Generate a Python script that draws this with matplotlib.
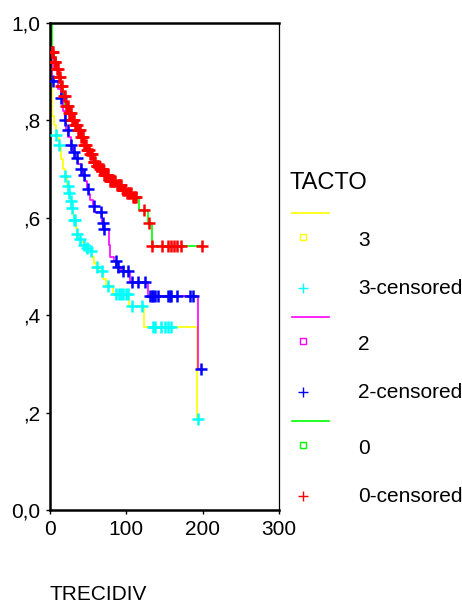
import matplotlib
matplotlib.use("Agg")
import matplotlib.pyplot as plt
import numpy as np

plt.rcParams['font.family'] = ['Liberation Sans', 'DejaVu Sans']

# survival steps (time, cumulative survival)
t3 = [0, 1, 2, 3, 5, 8, 12, 15, 17, 19, 22, 24, 26, 28, 30, 32, 34, 36, 38, 41,
      44, 47, 51, 55, 58, 60, 64, 70, 74, 82, 104, 123, 192]
s3 = [1.0, 0.95, 0.88, 0.81, 0.79, 0.77, 0.75, 0.72, 0.70, 0.685, 0.665, 0.65,
      0.635, 0.62, 0.605, 0.595, 0.58, 0.567, 0.557, 0.55, 0.545, 0.538, 0.532,
      0.52, 0.508, 0.50, 0.49, 0.475, 0.46, 0.443, 0.419, 0.375, 0.186]
end3 = 194
cens3 = [8, 12, 19, 23, 25, 27, 29, 32, 33, 36, 39, 45, 49, 54, 61, 68, 76, 87,
         90, 93, 96, 99, 102, 107, 121, 135, 138, 146, 150, 154, 159, 194]

t2 = [0, 1, 3, 10, 14, 17, 19, 21, 24, 27, 30, 33, 37, 40, 43, 46, 49, 51, 53,
      56, 58, 68, 70, 77, 79, 84, 87, 93, 105, 128, 194]
s2 = [1.0, 0.94, 0.88, 0.865, 0.845, 0.82, 0.80, 0.78, 0.765, 0.75, 0.735,
      0.722, 0.71, 0.70, 0.688, 0.675, 0.66, 0.648, 0.636, 0.624, 0.612, 0.59,
      0.577, 0.545, 0.52, 0.511, 0.50, 0.49, 0.468, 0.44, 0.29]
end2 = 198
cens2 = [2, 3.5, 15, 19, 23, 28, 32, 36, 41, 45, 50, 57, 67, 69, 71, 86, 89, 95,
         102, 108, 115, 124, 131, 133, 135, 137, 141, 154, 157, 159, 167, 183,
         187, 198]

t0 = [0, 2, 5, 8, 11, 14, 17, 20, 24, 28, 32, 36, 40, 44, 48, 52, 56, 60, 65,
      70, 78, 87, 95, 100, 108, 116, 128, 134]
s0 = [1.0, 0.94, 0.92, 0.905, 0.89, 0.87, 0.85, 0.83, 0.815, 0.80, 0.79, 0.78,
      0.765, 0.75, 0.74, 0.73, 0.715, 0.707, 0.70, 0.687, 0.675, 0.667, 0.658,
      0.65, 0.643, 0.617, 0.59, 0.543]
end0 = 200
cens0 = [2, 3, 4, 5, 6, 7, 9, 10, 12, 13, 15, 16, 18, 19, 21, 22, 23, 25, 26, 27,
         29, 30, 31, 33, 34, 35, 37, 38, 39, 41, 42, 43, 45, 46, 47, 49, 50, 51,
         53, 54, 55, 57, 58, 59, 61, 62, 63, 64, 66, 67, 68, 69, 71, 72, 73, 74,
         75, 76, 79, 80, 81, 82, 83, 84, 85, 88, 89, 90, 91, 92, 93, 96, 97, 98,
         101, 102, 103, 105, 106, 109, 110, 112, 113, 123, 130, 134, 147, 154,
         159, 163, 167, 172, 199]

groups = ['3', '2', '0']
line_colors = ['#FFFF00', '#FF00FF', '#00FF00']
cens_colors = ['#00FFFF', '#0000FF', '#FF0000']

yticks = [0.0, 0.2, 0.4, 0.6, 0.8, 1.0]
ylabels = ['0,0', ',2', ',4', ',6', ',8', '1,0']
xticks = [0, 100, 200, 300]


def surv_at(t, s, times):
    idx = np.searchsorted(t, times, side='right') - 1
    return np.array(s)[idx]


fig = plt.figure(figsize=(4.62, 6.06), dpi=100)
ax = fig.add_axes([50 / 462, 1 - 510 / 606, 229 / 462, 487 / 606])

data = [(t3, s3, end3, cens3), (t2, s2, end2, cens2), (t0, s0, end0, cens0)]
for (t, s, end, cens), lc, cc in zip(data, line_colors, cens_colors):
    tt = list(t) + [end]
    ss = list(s) + [s[-1]]
    ax.step(tt, ss, where='post', color=lc, lw=1.2, zorder=2)
    ax.plot(cens, surv_at(t, s, cens), ls='none', marker='+', ms=8,
            mew=1.8, color=cc, zorder=3)

ax.set_xlim(0, 300)
ax.set_ylim(0, 1.0)
ax.set_xticks(xticks)
ax.set_yticks(yticks)
ax.set_yticklabels(ylabels)
ax.tick_params(labelsize=15, length=3, width=1, direction='out', pad=4)
for side in ['left', 'bottom', 'top']:
    ax.spines[side].set_linewidth(1.8)
ax.spines['right'].set_linewidth(0.9)

fig.text(50 / 462, 1 - 594 / 606, 'TRECIDIV', fontsize=15, va='center',
         ha='left')

# legend drawn in pixel space
leg = fig.add_axes([0, 0, 1, 1])
leg.set_xlim(0, 462)
leg.set_ylim(606, 0)
leg.axis('off')
leg.text(289, 183, 'TACTO', fontsize=17, va='center', ha='left')
for i, (g, lc, cc) in enumerate(zip(groups, line_colors, cens_colors)):
    base = 213 + i * 104
    leg.plot([292, 329], [base, base], color=lc, lw=1.2)
    leg.plot([303], [base + 24], marker='s', ms=4, mfc='none', mec=lc, mew=1)
    leg.text(358, base + 27, g, fontsize=15, va='center', ha='left')
    leg.plot([303], [base + 75], marker='+', ms=7, mew=1, color=cc)
    leg.text(358, base + 76, g + '-censored', fontsize=15, va='center',
             ha='left')

fig.savefig('out.png', dpi=100)
